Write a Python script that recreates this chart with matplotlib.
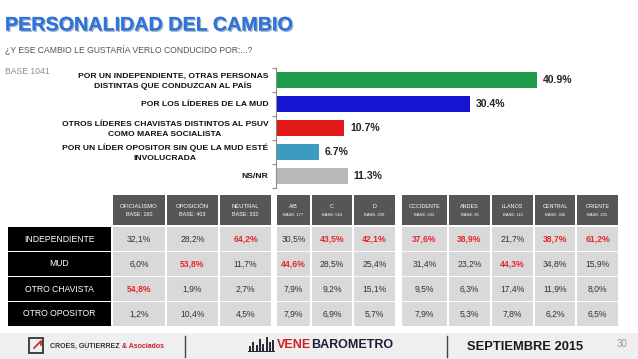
import numpy as np
import matplotlib.pyplot as plt
from matplotlib.patches import Rectangle
import matplotlib.patheffects as pe

plt.rcParams["font.family"] = ["Liberation Sans", "DejaVu Sans"]

# --- data -------------------------------------------------------------
categories = [
    "POR UN INDEPENDIENTE, OTRAS PERSONAS\nDISTINTAS QUE CONDUZCAN AL PAÍS",
    "POR LOS LÍDERES DE LA MUD",
    "OTROS LÍDERES CHAVISTAS DISTINTOS AL PSUV\nCOMO MAREA SOCIALISTA",
    "POR UN LÍDER OPOSITOR SIN QUE LA MUD ESTÉ\nINVOLUCRADA",
    "NS/NR",
]
values = [40.9, 30.4, 10.7, 6.7, 11.3]
bar_colors = ["#1e9b4b", "#1515d2", "#e01a1a", "#3b9cc0", "#b9b9b9"]

col_names = ["OFICIALISMO", "OPOSICIÓN", "NEUTRAL", "A/B", "C", "D",
             "OCCIDENTE", "ANDES", "LLANOS", "CENTRAL", "ORIENTE"]
col_bases = [160, 403, 332, 177, 563, 299, 243, 85, 115, 346, 201]
row_labels = ["INDEPENDIENTE", "MUD", "OTRO CHAVISTA", "OTRO OPOSITOR"]
table_values = [
    [32.1, 28.2, 64.2, 30.5, 43.5, 42.1, 37.6, 38.9, 21.7, 38.7, 61.2],
    [6.0, 53.8, 11.7, 44.6, 28.5, 25.4, 31.4, 23.2, 44.3, 34.8, 15.9],
    [54.8, 1.9, 2.7, 7.9, 9.2, 15.1, 9.5, 6.3, 17.4, 11.9, 8.0],
    [1.2, 10.4, 4.5, 7.9, 6.9, 5.7, 7.9, 5.3, 7.8, 6.2, 6.5],
]

# --- layout (pixels) --------------------------------------------------
W, H = 638, 359
col_edges = [(113, 165), (167, 218), (220, 271),
             (277, 310), (312, 352), (354, 395),
             (402, 447), (449, 490), (492, 533), (535, 575), (577, 618)]
header_y = (195, 225)
row_y = [(227, 251), (252, 276), (277, 301), (302, 326)]
label_x = (8, 111)


def px(x0, y0, x1, y1):
    return [x0 / W, 1 - y1 / H, (x1 - x0) / W, (y1 - y0) / H]


fig = plt.figure(figsize=(W / 100, H / 100), dpi=100)
fig.patch.set_facecolor("white")

ov = fig.add_axes([0, 0, 1, 1])
ov.set_xlim(0, W)
ov.set_ylim(H, 0)
ov.axis("off")

# title
ov.text(5, 25, "PERSONALIDAD DEL CAMBIO", fontsize=14.2, fontweight="bold",
        color="#2f74dc", va="center", ha="left",
        path_effects=[pe.withSimplePatchShadow(offset=(1, -1), alpha=0.35), pe.Normal()])
ov.text(5, 49, "¿Y ESE CAMBIO LE GUSTARÍA VERLO CONDUCIDO POR:...?", fontsize=6.2,
        color="#555555", va="center")
ov.text(5, 72, "BASE 1041", fontsize=6.2, color="#8a8a8a", va="center")

# --- bar chart --------------------------------------------------------
ax = fig.add_axes(px(276, 68, 600, 188))
ax.patch.set_alpha(0)
y = np.arange(len(values))
ax.barh(y, values, height=0.66, color=bar_colors)
ax.set_xlim(0, 324 / 6.38)
ax.set_ylim(len(values) - 0.5, -0.5)
for s in ["top", "right", "bottom"]:
    ax.spines[s].set_visible(False)
ax.spines["left"].set_color("#8c8c8c")
ax.spines["left"].set_linewidth(0.8)
ax.set_xticks([])
ax.set_yticks(y)
ax.set_yticklabels([])
ax.set_yticks(np.arange(-0.5, len(values)), minor=True)
ax.tick_params(axis="y", which="major", length=0)
ax.tick_params(axis="y", which="minor", length=3, color="#8c8c8c", width=0.8)

lab_style = dict(fontsize=6.1, fontweight="bold", color="#111111")
for yi, cat in zip(y, categories):
    lines = cat.split("\n")
    if len(lines) == 1:
        ax.annotate(cat, xy=(0, yi), xycoords=("axes fraction", "data"),
                    xytext=(-5.5, 0), textcoords="offset points", ha="right",
                    va="center_baseline", **lab_style)
    else:
        t = ax.annotate(lines[0], xy=(0, yi), xycoords=("axes fraction", "data"),
                        xytext=(-5.5, 1.6), textcoords="offset points", ha="right",
                        va="baseline", **lab_style)
        ax.annotate(lines[1], xy=(0.5, 0), xycoords=t, xytext=(0, -5.9),
                    textcoords="offset points", ha="center", va="baseline",
                    **lab_style)
for yi, v in zip(y, values):
    ax.text(v + 0.9, yi, f"{v:.1f}%", va="center", ha="left", fontsize=7.5,
            fontweight="bold", color="#222222")

# --- table ------------------------------------------------------------
tv = np.array(table_values)
col_max = tv.max(axis=0)
for j, ((x0, x1), name, base) in enumerate(zip(col_edges, col_names, col_bases)):
    ov.add_patch(Rectangle((x0, header_y[0]), x1 - x0, header_y[1] - header_y[0],
                           color="#565656", lw=0))
    cx = (x0 + x1) / 2
    big = j < 3
    ov.text(cx, 207, name, ha="center", va="center", color="white",
            fontsize=4.2 if big else 3.9)
    ov.text(cx, 215, f"BASE: {base}", ha="center", va="center", color="white",
            fontsize=3.9 if big else 3.0)
    for i, (y0, y1) in enumerate(row_y):
        ov.add_patch(Rectangle((x0, y0), x1 - x0, y1 - y0, color="#d9d9d9", lw=0))
        v = tv[i, j]
        hot = v == col_max[j]
        ov.text(cx, (y0 + y1) / 2, f"{v:.1f}%".replace(".", ","), ha="center",
                va="center", fontsize=6.2, color="#e5262b" if hot else "#333333",
                fontweight="bold" if hot else "normal")

for (y0, y1), lab in zip(row_y, row_labels):
    ov.add_patch(Rectangle((label_x[0], y0), label_x[1] - label_x[0], y1 - y0,
                           color="black", lw=0))
    ov.text(sum(label_x) / 2, (y0 + y1) / 2, lab, ha="center", va="center",
            color="white", fontsize=6.2)

# --- footer -----------------------------------------------------------
ov.add_patch(Rectangle((0, 333), W, H - 333, color="#efefef", lw=0))
ov.add_patch(Rectangle((29, 338), 14, 15, fill=False, ec="#333333", lw=1.3))
ov.plot([34, 41, 41], [348, 341, 345], color="#d02020", lw=1.2)
t1 = ov.text(50, 346, "CROES, GUTIERREZ", fontsize=5, fontweight="bold",
             color="#333333", va="center")
ov.annotate(" & Asociados", xy=(1, 0.5), xycoords=t1, va="center", ha="left",
            fontsize=5, fontweight="bold", color="#c8202a")
ov.plot([185, 185], [336, 357], color="#444444", lw=1)
for k, hgt in enumerate([5, 9, 6, 12, 7, 14, 9, 11]):
    ov.add_patch(Rectangle((249 + k * 3.3, 351 - hgt), 2, hgt, color="#2a2a3a", lw=0))
ov.add_patch(Rectangle((248, 351), 27, 1.2, color="#2a2a3a", lw=0))
t2 = ov.text(277, 345, "VENE", fontsize=9, fontweight="bold", color="#d01f2a",
             va="center")
ov.annotate("BAROMETRO", xy=(1, 0.5), xycoords=t2, va="center", ha="left",
            fontsize=9, fontweight="bold", color="#1d1d3a")
ov.plot([447, 447], [336, 357], color="#444444", lw=1)
ov.text(467, 347, "SEPTIEMBRE 2015", fontsize=9.3, fontweight="bold",
        color="#1a1a1a", va="center")
ov.text(617, 344, "30", fontsize=7, color="#9a9a9a", va="center")

fig.savefig("out.png", dpi=100)
